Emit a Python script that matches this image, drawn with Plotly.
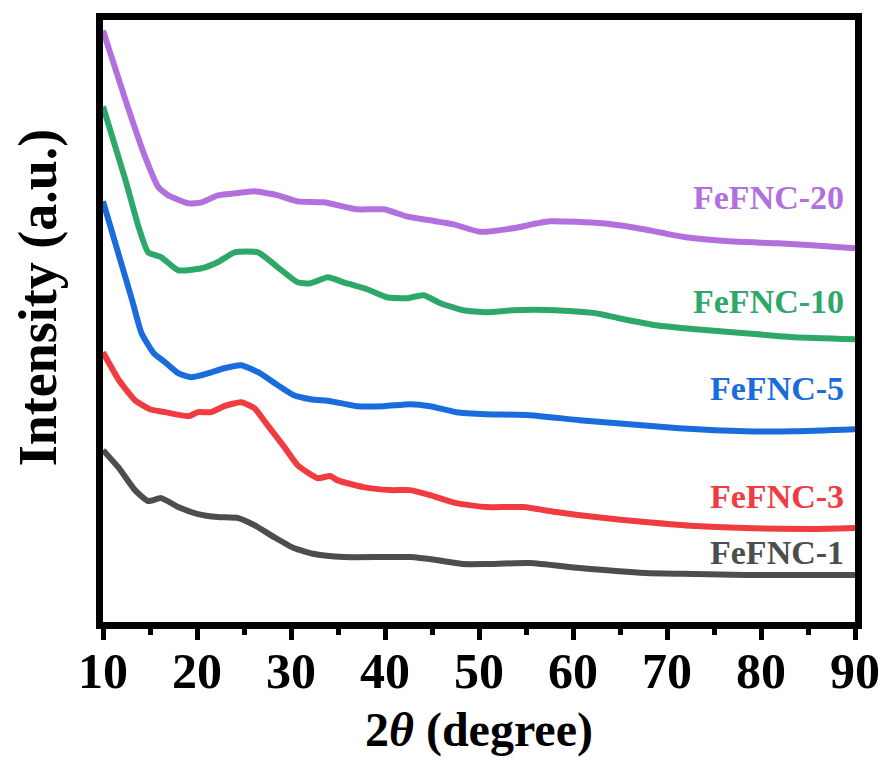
import plotly.graph_objects as go

# 2theta (degree) and intensity (a.u., arbitrary offsets)
x_fefnc20 = [10, 12.4, 14.5, 15.9, 16.95, 19.1, 20.5, 22.2, 24, 26.1, 28.6, 30.7, 33.5, 37, 39.9, 42.3, 44.8, 47.3, 50.1, 53.6, 57.5, 63.1, 66.3, 69.2, 72, 76.6, 81.8, 85.4, 90]
y_fefnc20 = [596, 526, 469, 439, 431, 423, 424, 431, 433, 435, 431, 425, 424, 417, 417, 410, 406, 402, 394.5, 398, 405, 403, 399, 394, 389, 385, 383, 381, 378]

x_fefnc10 = [10, 12.4, 13.8, 14.8, 16.2, 18, 20.5, 22.2, 24, 26.5, 28.6, 30.7, 32.1, 33.9, 35.6, 38.1, 40.2, 42.3, 44.1, 45.9, 48.3, 50.8, 53.6, 58.2, 62.4, 64.9, 68.8, 73, 78.3, 83.6, 90]
y_fefnc10 = [520, 446, 399, 374, 369, 356, 358, 364, 374, 374, 359, 344, 343, 349, 344, 337, 329, 328, 331, 323, 316, 314, 316, 316, 313, 308, 301, 297, 293, 289, 287]

x_fefnc5 = [10, 13.1, 14.1, 15.4, 16.6, 18, 19.4, 21.2, 22.9, 24.7, 26.5, 28.6, 30.3, 32.1, 34.2, 37, 39.9, 42.7, 44.8, 47.6, 50.8, 55.4, 60.7, 66, 71.3, 78.3, 83.6, 90]
y_fefnc5 = [425, 326, 293, 273, 264, 253, 249, 253, 258, 261, 254, 241, 231, 227, 225, 220, 220, 222, 220, 214, 212, 211, 206, 202, 198, 195, 195, 197]

x_fefnc3 = [10, 11.7, 13.4, 15, 16.6, 19.1, 20.1, 21.5, 22.9, 24.7, 26.1, 27.5, 29.3, 30.7, 32.8, 34.2, 34.9, 37.7, 40.6, 42.7, 44.8, 47.6, 50.8, 54.7, 58.2, 62.4, 67.7, 73, 78.3, 85.4, 90]
y_fefnc3 = [274, 246, 226, 217, 214, 210, 214, 214, 220, 224, 218, 201, 179, 161, 148, 150, 146, 139, 136, 136, 131, 123, 119, 119, 114, 109, 104, 100, 98, 97, 98]

x_fefnc1 = [10, 11.7, 13.4, 14.8, 16.2, 18, 20.1, 22.2, 24.4, 26.1, 28.2, 30.3, 32.5, 35.6, 39.9, 42.7, 45.5, 48.3, 50.8, 55.4, 60.7, 67.7, 73, 78.3, 90]
y_fefnc1 = [176, 158, 136, 125, 128, 119, 112, 109, 108, 101, 89, 78, 72, 69, 69, 69, 66, 62, 62, 63, 58, 53, 52, 51, 51]

names = ["FeFNC-1", "FeFNC-3", "FeFNC-5", "FeFNC-10", "FeFNC-20"]
colors = ["#4D4D4D", "#F03C41", "#1A6CDC", "#2EA86A", "#B270DE"]
xs = [x_fefnc1, x_fefnc3, x_fefnc5, x_fefnc10, x_fefnc20]
ys = [y_fefnc1, y_fefnc3, y_fefnc5, y_fefnc10, y_fefnc20]
label_y = [74, 130, 238, 325, 429]
label_x = 89.05

FONT = "Liberation Serif, Times New Roman, serif"

fig = go.Figure()
for n, c, x, y in zip(names, colors, xs, ys):
    fig.add_trace(go.Scatter(x=x, y=y, mode="lines", name=n,
                             line=dict(color=c, width=6, shape="spline", smoothing=0.5),
                             showlegend=False))

annotations = []
for n, c, ly in zip(names, colors, label_y):
    annotations.append(dict(x=label_x, y=ly, xref="x", yref="y", text=n, showarrow=False,
                            xanchor="right", yanchor="middle",
                            font=dict(family=FONT, size=34, color=c, weight="bold")))

annotations.append(dict(x=0.5, y=-0.18, xref="paper", yref="paper",
                        text="2<i>θ</i> (degree)", showarrow=False,
                        xanchor="center", yanchor="middle",
                        font=dict(family=FONT, size=48, color="black", weight="bold")))
annotations.append(dict(x=-0.086, y=0.54, xref="paper", yref="paper",
                        text="Intensity (a.u.)", showarrow=False, textangle=-90,
                        xanchor="center", yanchor="middle",
                        font=dict(family=FONT, size=54, color="black", weight="bold")))

fig.update_layout(
    width=887, height=765,
    margin=dict(l=103, r=32, t=19.5, b=143, autoexpand=False),
    paper_bgcolor="white", plot_bgcolor="white",
    annotations=annotations,
    xaxis=dict(range=[10, 90], tickvals=[10, 20, 30, 40, 50, 60, 70, 80, 90],
               automargin=False,
               ticks="outside", ticklen=11, tickwidth=5, tickcolor="black",
               ticklabelstandoff=-12,
               minor=dict(tickvals=[15, 25, 35, 45, 55, 65, 75, 85], ticks="outside",
                          ticklen=6, tickwidth=5, tickcolor="black"),
               showline=True, linecolor="black", linewidth=7, mirror=True,
               showgrid=False, zeroline=False,
               tickfont=dict(family=FONT, size=50, color="black", weight="bold")),
    yaxis=dict(range=[4, 606.5], showticklabels=False, ticks="", automargin=False,
               showline=True, linecolor="black", linewidth=7, mirror=True,
               showgrid=False, zeroline=False),
)

fig.write_html("out.html")
